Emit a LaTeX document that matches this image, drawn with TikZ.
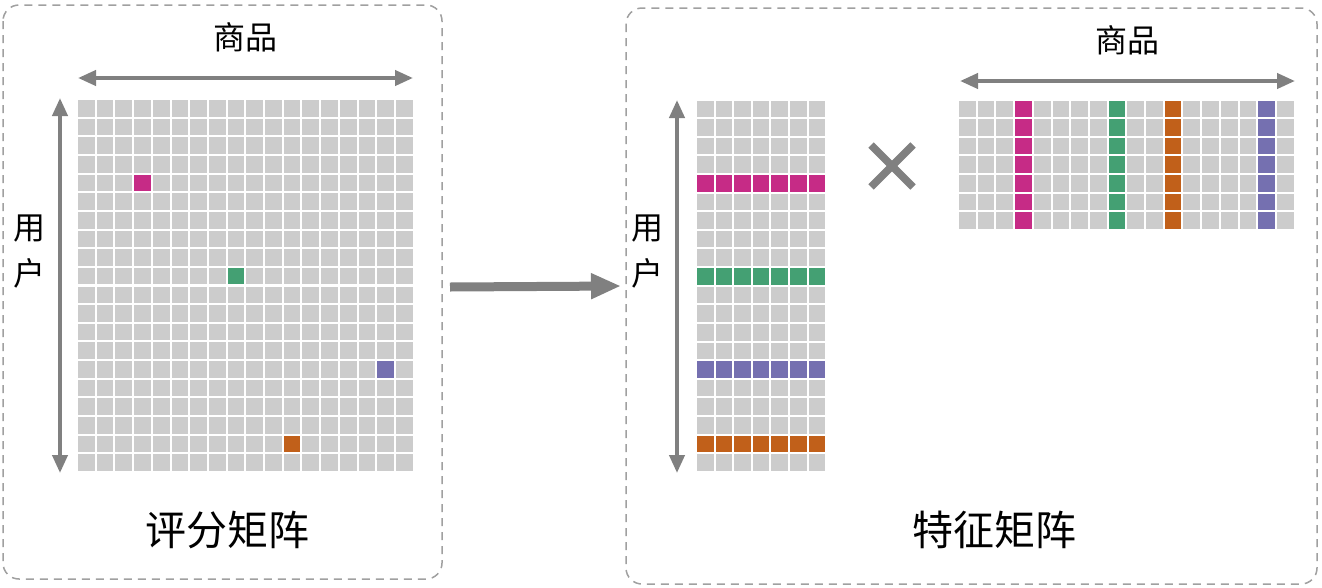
\documentclass[tikz,border=0pt]{standalone}
\usepackage{fontspec}
\newfontfamily\cjk{Noto Sans CJK SC}
\usetikzlibrary{arrows.meta}
\definecolor{cellgray}{HTML}{CCCCCC}
\definecolor{cmag}{HTML}{C62B86}
\definecolor{cgrn}{HTML}{44A073}
\definecolor{corg}{HTML}{C1601A}
\definecolor{cpur}{HTML}{7570B0}
\definecolor{arrgray}{HTML}{808080}
\definecolor{boxgray}{HTML}{A0A0A0}
\tikzset{
  frame/.style={draw=boxgray, line width=1.5pt, dash pattern=on 8pt off 6pt, rounded corners=16pt},
  axisarrow/.style={draw=arrgray, line width=4pt, {Triangle[length=18pt,width=15pt]}-{Triangle[length=18pt,width=15pt]}},
  bigarrow/.style={draw=arrgray, line width=9pt, -{Triangle[length=30pt,width=24pt]}},
  lbl/.style={font=\cjk\fontsize{32}{46}\selectfont, inner sep=0pt, align=center},
  title/.style={font=\cjk\fontsize{41}{46}\selectfont, inner sep=0pt},
}
\begin{document}
\begin{tikzpicture}[x=1pt,y=-1pt]
\useasboundingbox (0,0) rectangle (1322,587);
\fill[white] (0,0) rectangle (1322,587);
% frames
\draw[frame] (3,5) rectangle (442,579);
\draw[frame] (626,8) rectangle (1317,584);
% left rating matrix 20x18
\foreach \r in {0,...,19}{
  \foreach \c in {0,...,17}{
    \fill[cellgray] ({78+\c*18.7},{100+\r*18.65}) rectangle +(16.7,16.6);
  }
}
\fill[cmag] ({78+3*18.7},{100+4*18.65}) rectangle +(16.7,16.6);
\fill[cgrn] ({78+8*18.7},{100+9*18.65}) rectangle +(16.7,16.6);
\fill[cpur] ({78+16*18.7},{100+14*18.65}) rectangle +(16.7,16.6);
\fill[corg] ({78+11*18.7},{100+18*18.65}) rectangle +(16.7,16.6);
% user feature matrix 20x7
\foreach \r in {0,...,19}{
  \foreach \c in {0,...,6}{
    \fill[cellgray] ({697+\c*18.6},{100.5+\r*18.62}) rectangle +(16.6,16.6);
  }
}
\foreach \r/\col in {4/cmag,9/cgrn,14/cpur,18/corg}{
  \foreach \c in {0,...,6}{
    \fill[\col] ({697+\c*18.6},{100.5+\r*18.62}) rectangle +(16.6,16.6);
  }
}
% item feature matrix 7x18
\foreach \r in {0,...,6}{
  \foreach \c in {0,...,17}{
    \fill[cellgray] ({959+\c*18.7},{100.5+\r*18.6}) rectangle +(16.7,16.6);
  }
}
\foreach \c/\col in {3/cmag,8/cgrn,11/corg,16/cpur}{
  \foreach \r in {0,...,6}{
    \fill[\col] ({959+\c*18.7},{100.5+\r*18.6}) rectangle +(16.7,16.6);
  }
}
% axis coordinates
\coordinate (lha) at (78,78);   \coordinate (lhb) at (413,78);
\coordinate (lva) at (60,98);   \coordinate (lvb) at (60,473);
\coordinate (rva) at (677,100); \coordinate (rvb) at (677,473);
\coordinate (rha) at (960,81);  \coordinate (rhb) at (1295,81);
\draw[axisarrow] (lha) -- (lhb);
\draw[axisarrow] (lva) -- (lvb);
\draw[axisarrow] (rva) -- (rvb);
\draw[axisarrow] (rha) -- (rhb);
% labels
\node[lbl] (itemL) at (245,37) {商品};
\node[lbl] (userL) at (29,252) {用\\户};
\node[lbl] (itemR) at (1127,40) {商品};
\node[lbl] (userR) at (647,252) {用\\户};
\node[title] (rating) at (227,530) {评分矩阵};
\node[title] (feature) at (994,530) {特征矩阵};
% big arrow
\coordinate (bigA) at (450,287);
\coordinate (bigB) at (621,286);
\draw[bigarrow] (bigA) -- (bigB);
% times sign
\coordinate (timesC) at (892,166);
\draw[arrgray, line width=7.5pt] ([shift={(-21,-21)}]timesC) -- ([shift={(21,21)}]timesC);
\draw[arrgray, line width=7.5pt] ([shift={(-21,21)}]timesC) -- ([shift={(21,-21)}]timesC);
\end{tikzpicture}
\end{document}
